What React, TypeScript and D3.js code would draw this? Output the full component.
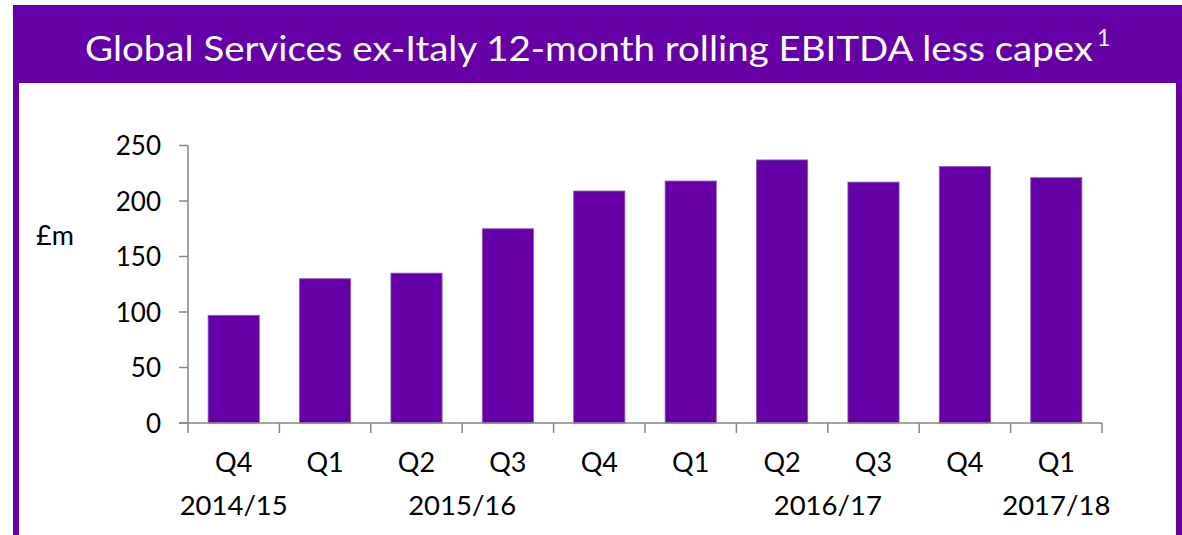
import React from 'react';
import * as d3 from 'd3';

const quarters = ['Q4', 'Q1', 'Q2', 'Q3', 'Q4', 'Q1', 'Q2', 'Q3', 'Q4', 'Q1'];
const values = [97, 130, 135, 175, 209, 218, 237, 217, 231, 221];
// year groups: label, first bar index, last bar index
const yearLabels = ['2014/15', '2015/16', '2016/17', '2017/18'];
const yearStart = [0, 1, 5, 9];
const yearEnd = [0, 4, 8, 9];
const yTicks = [0, 50, 100, 150, 200, 250];

const PURPLE = '#6400a6';
const FONT = 'Lato, "Open Sans", sans-serif';

const App = () => {
  const width = 1182;
  const height = 535;
  const plot = { left: 188, right: 1102, top: 145.5, bottom: 423 };

  const xScale = d3.scaleBand<number>()
    .domain(d3.range(values.length))
    .range([plot.left, plot.right])
    .paddingInner(0.44)
    .paddingOuter(0.22);

  const yScale = d3.scaleLinear()
    .domain([0, 250])
    .range([plot.bottom, plot.top]);

  const step = xScale.step();
  const boundaries = d3.range(values.length + 1).map(i => plot.left + i * step);

  return (
    <svg width={width} height={height} style={{ position: 'absolute', left: 0, top: 0, background: '#fff' }}>
      {/* frame and title bar */}
      <rect x={13} y={5} width={width - 13} height={78} fill={PURPLE} />
      <rect x={13} y={5} width={6} height={height} fill={PURPLE} />
      <rect x={1176} y={5} width={6} height={height} fill={PURPLE} />
      <text x={85} y={61} fontFamily={FONT} fontSize={35.5} fill="#fff" textLength={1008} lengthAdjust="spacingAndGlyphs">
        Global Services ex-Italy 12-month rolling EBITDA less capex
      </text>
      <text x={1097} y={46} fontFamily={FONT} fontSize={23} fill="#fff">1</text>

      {/* unit label */}
      <text x={36} y={245} fontFamily={FONT} fontSize={27} fill="#000">£m</text>

      {/* bars */}
      <g>
        {values.map((v, i) => (
          <rect
            key={i}
            x={xScale(i)}
            y={yScale(v)}
            width={xScale.bandwidth()}
            height={yScale(0) - yScale(v)}
            fill={PURPLE}
            stroke="#8a5bb8"
            strokeWidth={0.8}
          />
        ))}
      </g>

      {/* y axis */}
      <g stroke="#868686" strokeWidth={1.5}>
        <line x1={plot.left} x2={plot.left} y1={plot.top} y2={plot.bottom} />
        {yTicks.map(t => (
          <line key={t} x1={plot.left - 9} x2={plot.left} y1={yScale(t)} y2={yScale(t)} />
        ))}
      </g>
      {yTicks.map(t => (
        <text key={t} x={161} y={yScale(t) + 9.5} textAnchor="end" fontFamily={FONT} fontSize={26} fill="#000">
          {t}
        </text>
      ))}

      {/* x axis */}
      <g stroke="#868686" strokeWidth={1.5}>
        <line x1={plot.left - 9} x2={plot.right} y1={plot.bottom} y2={plot.bottom} />
        {boundaries.map((b, i) => (
          <line key={i} x1={b} x2={b} y1={plot.bottom} y2={plot.bottom + 10} />
        ))}
      </g>
      {quarters.map((q, i) => (
        <text key={i} x={xScale(i)! + xScale.bandwidth() / 2} y={472} textAnchor="middle" fontFamily={FONT} fontSize={27} fill="#000">
          {q}
        </text>
      ))}
      {yearLabels.map((y, i) => (
        <text
          key={y}
          x={(boundaries[yearStart[i]] + boundaries[yearEnd[i] + 1]) / 2}
          y={515}
          textAnchor="middle"
          fontFamily={FONT}
          fontSize={27.5}
          fill="#000"
        >
          {y}
        </text>
      ))}
    </svg>
  );
};

export default App;
